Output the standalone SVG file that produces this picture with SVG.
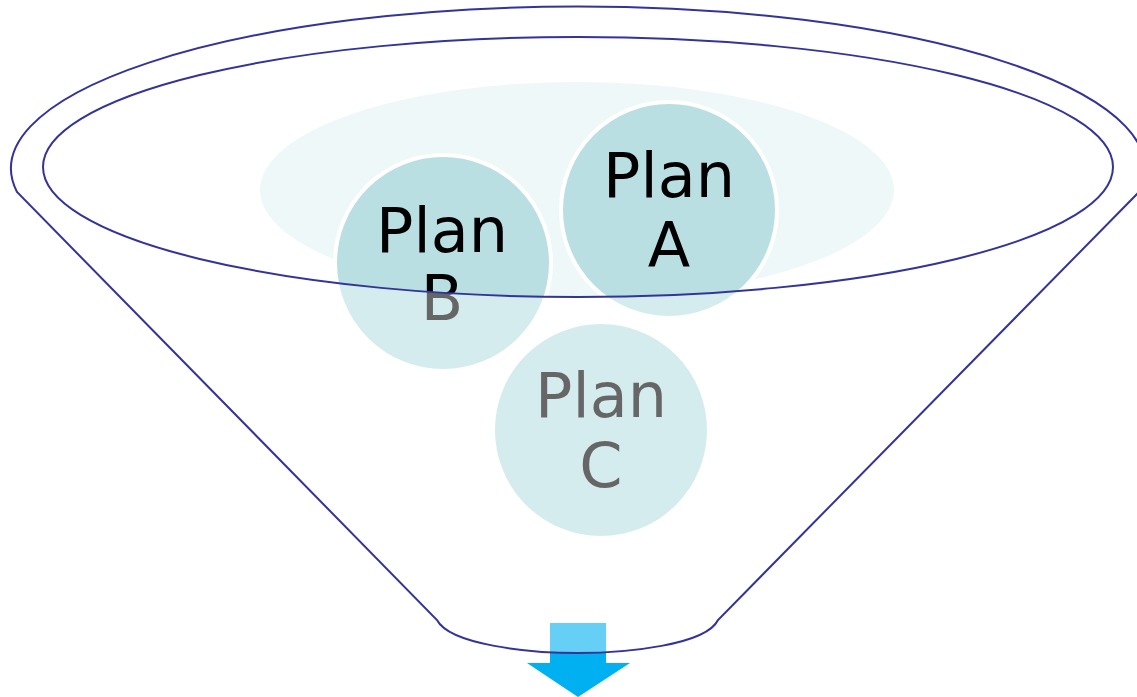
<svg xmlns="http://www.w3.org/2000/svg" width="1137" height="697" viewBox="0 0 1137 697">
  <style>
    .bubble { fill: #B9DFE3; stroke: #FFFFFF; stroke-width: 4; }
    .label { font-family: "DejaVu Sans", Verdana, sans-serif; font-size: 62px; fill: #000000; text-anchor: middle; }
    .rim { fill: none; stroke: #333399; stroke-width: 2; }
  </style>
  <rect width="1137" height="697" fill="#FFFFFF"/>
  <g id="backdrop">
    <ellipse cx="577" cy="190" rx="317" ry="108" fill="#EFF8F8"/>
  </g>
  <g id="planA">
    <circle class="bubble" cx="669" cy="210" r="108"/>
    <text class="label" x="669" y="197">Plan</text>
    <text class="label" x="669" y="267">A</text>
  </g>
  <g id="planB">
    <circle class="bubble" cx="443" cy="263" r="108"/>
    <text class="label" x="442" y="252">Plan</text>
    <text class="label" x="442" y="320">B</text>
  </g>
  <g id="planC">
    <circle class="bubble" cx="601" cy="430" r="108"/>
    <text class="label" x="601" y="417">Plan</text>
    <text class="label" x="601" y="487">C</text>
  </g>
  <g id="connectors">
    <g id="arrow" fill="#00B0F0">
      <rect x="550" y="623" width="56" height="41"/>
      <polygon points="527,663 630,663 578,697"/>
    </g>
  </g>
  <g id="funnel">
    <path fill="#FFFFFF" fill-opacity="0.4" fill-rule="evenodd" d="M17,192 A567,162 0 1 1 1139,192 L718,620 C706,645 626,653 578,653 C530,653 450,645 437,620 Z M43,167 A535,130 0 1 0 1113,167 A535,130 0 1 0 43,167 Z"/>
    <path class="rim" d="M17,192 A567,162 0 1 1 1139,192 L718,620 C706,645 626,653 578,653 C530,653 450,645 437,620 Z"/>
    <ellipse class="rim" cx="578" cy="167" rx="535" ry="130"/>
  </g>
</svg>
